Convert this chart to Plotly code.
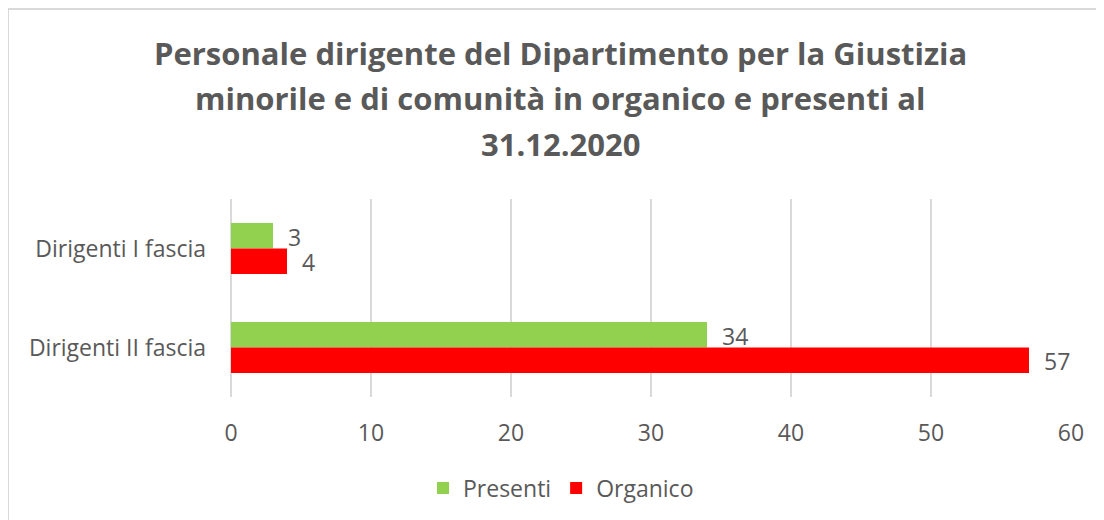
import plotly.graph_objects as go

categories = ["Dirigenti I fascia", "Dirigenti II fascia"]
presenti = [3, 34]
organico = [4, 57]
series_names = ["Presenti", "Organico"]
title_lines = ["Personale dirigente del Dipartimento per la Giustizia",
               "minorile e di comunità in organico e presenti al",
               "31.12.2020"]

W, H = 1104, 520
OFF = 8  # page body margin
L, T = 231 - OFF, 199 - OFF
R = W - (1071 - OFF)
B = H - (397 - OFF)
PW, PH = W - L - R, H - T - B

GREEN = "#92D050"
RED = "#FF0000"
GRAY = "#595959"
FONT = "Open Sans"
FS = 23


def px_x(p):
    return (p - L) / PW


def px_y(p):
    return 1 - (p - T) / PH


fig = go.Figure()
fig.add_trace(go.Bar(y=categories, x=presenti, name=series_names[0], orientation="h",
                     marker=dict(color=GREEN, line=dict(width=0))))
fig.add_trace(go.Bar(y=categories, x=organico, name=series_names[1], orientation="h",
                     marker=dict(color=RED, line=dict(width=0))))

bargap = 0.485
bar_px = (1 - bargap) * (PH / len(categories)) / 2
annotations = []
for vals, sign in ((presenti, -1), (organico, 1)):
    for cat, v in zip(categories, vals):
        annotations.append(dict(x=v, y=cat, xref="x", yref="y", text=str(v),
                                showarrow=False, xanchor="left", yanchor="middle",
                                xshift=13, yshift=-sign * bar_px / 2 - 1,
                                font=dict(family=FONT, size=FS, color=GRAY)))

title_centers = [53 - OFF, 98 - OFF, 144 - OFF]
for line, cy in zip(title_lines, title_centers):
    annotations.append(dict(text="<b>" + line + "</b>", x=px_x(560 - OFF), y=px_y(cy),
                            xref="paper", yref="paper", xanchor="center", yanchor="middle",
                            showarrow=False,
                            font=dict(family=FONT, size=31, color=GRAY)))

fig.update_layout(
    width=W, height=H,
    margin=dict(l=L, r=R, t=T, b=B, pad=0),
    paper_bgcolor="white", plot_bgcolor="white",
    barmode="group", bargap=bargap, bargroupgap=0,
    xaxis=dict(range=[0, 60], dtick=10, showgrid=True, gridcolor="#D9D9D9", gridwidth=2,
               zeroline=True, zerolinecolor="#D9D9D9", zerolinewidth=2,
               showline=False, ticks="", ticklabelstandoff=20,
               tickfont=dict(family=FONT, size=FS, color=GRAY)),
    yaxis=dict(autorange="reversed", showgrid=False, zeroline=False, showline=False,
               ticks="", ticklabelstandoff=24,
               tickfont=dict(family=FONT, size=FS, color=GRAY)),
    legend=dict(orientation="h", x=(561 - OFF) / W, xref="container", xanchor="center",
                y=1 - (488 - OFF) / H, yref="container", yanchor="middle",
                font=dict(family=FONT, size=FS, color=GRAY),
                itemwidth=30, traceorder="normal"),
    annotations=annotations,
    shapes=[dict(type="rect", xref="paper", yref="paper",
                 x0=px_x(0), x1=px_x(W + 20), y0=px_y(1), y1=px_y(H + 20),
                 line=dict(color="#D9D9D9", width=2), fillcolor="rgba(0,0,0,0)",
                 layer="below")],
    showlegend=True,
)

fig.write_html("out.html")
